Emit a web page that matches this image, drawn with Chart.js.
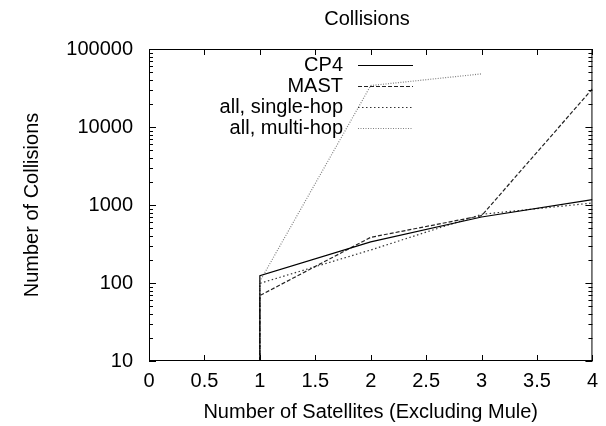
<!DOCTYPE html>
<html>
<head>
<meta charset="utf-8">
<script src="https://cdn.jsdelivr.net/npm/chart.js@4.4.1/dist/chart.umd.min.js"></script>
<style>
  html, body { margin: 0; padding: 0; background: #fff; }
  #wrap { width: 606px; height: 426px; }
</style>
</head>
<body>
<div id="wrap"><canvas id="collisionsChart"></canvas></div>
<script>
// --- Data ---
// first point of every series sits below the axis floor, which draws the vertical rise at x = 1
const satellites      = [1, 1, 2, 3, 4];
const cp4             = [1, 124, 336, 702, 1170];
const mast            = [1, 69, 385, 730, 30900];
const allSingleHop    = [1, 99, 265, 760, 1060];
const multiHopSats    = [1, 1, 2, 3];
const allMultiHop     = [1, 105, 34000, 48000];
const xTicks          = [0, 0.5, 1, 1.5, 2, 2.5, 3, 3.5, 4];
const yDecades        = [10, 100, 1000, 10000, 100000];

const FONT = "'Liberation Sans', Arial, Helvetica, sans-serif";

function toPoints(xs, ys) {
    return xs.map((x, i) => ({ x: x, y: ys[i] }));
}

// --- gnuplot-style frame, inward ticks, title and key ---
const frameAndKey = {
    id: 'frameAndKey',
    afterDraw(chart) {
        const c = chart.ctx;
        const a = chart.chartArea;
        const xs = chart.scales.x;
        const ys = chart.scales.y;
        c.save();
        c.strokeStyle = '#000';
        c.lineWidth = 1;
        c.setLineDash([]);
        c.strokeRect(a.left + 0.5, a.top + 0.5, a.right - a.left - 1, a.bottom - a.top - 1);

        c.beginPath();
        xTicks.forEach(v => {
            const px = Math.round(xs.getPixelForValue(v)) + 0.5;
            c.moveTo(px, a.bottom); c.lineTo(px, a.bottom - 6);
            c.moveTo(px, a.top); c.lineTo(px, a.top + 6);
        });
        for (let d = 0; d < yDecades.length; d++) {
            const base = yDecades[d];
            const py = Math.round(ys.getPixelForValue(base)) + 0.5;
            c.moveTo(a.left, py); c.lineTo(a.left + 7, py);
            c.moveTo(a.right, py); c.lineTo(a.right - 7, py);
            if (d < yDecades.length - 1) {
                for (let m = 2; m <= 9; m++) {
                    const my = Math.round(ys.getPixelForValue(base * m)) + 0.5;
                    c.moveTo(a.left, my); c.lineTo(a.left + 4, my);
                    c.moveTo(a.right, my); c.lineTo(a.right - 4, my);
                }
            }
        }
        c.stroke();

        c.fillStyle = '#000';
        c.font = '20px ' + FONT;
        c.textBaseline = 'middle';

        // title sits over the middle of the plot box
        c.textAlign = 'center';
        c.fillText('Collisions', 367, 19);

        // key, text right-aligned before the line sample
        c.textAlign = 'right';
        let ky = 65;
        chart.data.datasets.forEach(ds => {
            c.fillText(ds.label, 343, ky);
            c.beginPath();
            c.strokeStyle = ds.borderColor;
            c.lineWidth = ds.borderWidth;
            c.setLineDash(ds.borderDash || []);
            c.moveTo(358, ky + 0.5);
            c.lineTo(413, ky + 0.5);
            c.stroke();
            ky += 21;
        });
        c.restore();
    }
};

const ctx = document.getElementById('collisionsChart');
new Chart(ctx.getContext('2d'), {
    type: 'line',
    data: {
        datasets: [
            {
                label: 'CP4',
                data: toPoints(satellites, cp4),
                borderColor: '#000',
                borderWidth: 1.2
            },
            {
                label: 'MAST',
                data: toPoints(satellites, mast),
                borderColor: '#222',
                borderWidth: 1.2,
                borderDash: [4, 2]
            },
            {
                label: 'all, single-hop',
                data: toPoints(satellites, allSingleHop),
                borderColor: '#333',
                borderWidth: 1.2,
                borderDash: [1.5, 2.5]
            },
            {
                label: 'all, multi-hop',
                data: toPoints(multiHopSats, allMultiHop),
                borderColor: '#808080',
                borderWidth: 1.2,
                borderDash: [1, 1.5]
            }
        ]
    },
    options: {
        responsive: true,
        maintainAspectRatio: false,
        animation: false,
        events: [],
        layout: { padding: { left: 0, right: 8, top: 49, bottom: 0 } },
        elements: {
            point: { radius: 0 },
            line: { tension: 0, fill: false }
        },
        plugins: {
            legend: { display: false },
            tooltip: { enabled: false },
            title: { display: false }
        },
        scales: {
            x: {
                type: 'linear',
                min: 0,
                max: 4,
                afterBuildTicks: s => { s.ticks = xTicks.map(v => ({ value: v })); },
                afterFit: s => { s.height = 65; },
                grid: { display: false, drawTicks: false },
                border: { display: false },
                ticks: {
                    color: '#000',
                    padding: 8,
                    maxRotation: 0,
                    autoSkip: false,
                    font: { family: FONT, size: 20 },
                    callback: v => String(v)
                },
                title: {
                    display: true,
                    text: 'Number of Satellites (Excluding Mule)',
                    color: '#000',
                    font: { family: FONT, size: 20 },
                    padding: { top: 0, bottom: 2 }
                }
            },
            y: {
                type: 'logarithmic',
                min: 10,
                max: 100000,
                afterBuildTicks: s => { s.ticks = yDecades.map(v => ({ value: v })); },
                afterFit: s => { s.width = 149; },
                grid: { display: false, drawTicks: false },
                border: { display: false },
                ticks: {
                    color: '#000',
                    padding: 16,
                    autoSkip: false,
                    font: { family: FONT, size: 20 },
                    callback: v => String(v)
                },
                title: {
                    display: true,
                    text: 'Number of Collisions',
                    color: '#000',
                    font: { family: FONT, size: 20 },
                    padding: { top: 20, bottom: 0 }
                }
            }
        }
    },
    plugins: [frameAndKey]
});
</script>
</body>
</html>
